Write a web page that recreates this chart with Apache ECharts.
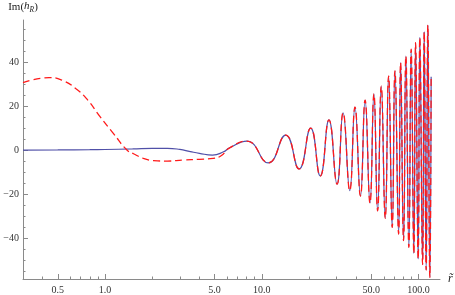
<!DOCTYPE html>
<html><head><meta charset="utf-8">
<script src="https://cdn.jsdelivr.net/npm/echarts@6/dist/echarts.min.js"></script>
<style>html,body{margin:0;padding:0;background:#fff}#c{width:455px;height:295px}</style>
</head><body><div id="c"></div>
<script>
// Blue (solid) before the two curves merge
const blueEarlyX = [0.3, 0.5, 0.8, 1.0, 1.5, 2.0, 2.5, 3.0, 3.5, 4.0, 4.85, 5.7];
const blueEarlyY = [0, 0.05, 0.15, 0.25, 0.5, 0.8, 0.8, 0.3, -0.7, -1.5, -2.3, -0.8];
// Red (dashed) before the two curves merge
const redEarlyX = [0.3, 0.35, 0.4, 0.44, 0.53, 0.65, 0.77, 0.93, 1.13, 1.38, 1.52, 1.76, 2.04, 2.5, 3.15, 4.0, 4.9, 5.5];
const redEarlyY = [30.6, 32.0, 32.7, 32.9, 31.8, 28.0, 23.0, 15.2, 7.6, 0, -1.7, -3.8, -4.8, -5.0, -4.5, -4.2, -3.8, -2.6];
// Shared oscillation (both curves coincide), extrema
const oscX = [6.2, 8.03, 11.0, 14.2, 17.3, 20.5, 23.6, 26.8, 30.2, 33.0, 36.4, 39.3, 42.6, 45.6, 49.0, 51.9, 54.8, 57.8, 61.3, 64.4, 67.9, 70.7, 74.6, 76.8, 80.2, 83.0, 86.7, 89.7, 93.3, 95.7, 99.4, 101.9, 106.1, 108.6, 111.8, 114.6, 118.0, 120.3];
const oscY = [0.9, 4.1, -5.8, 6.8, -8.6, 10.0, -11.8, 13.7, -15.5, 16.9, -18.4, 19.5, -20.9, 22.7, -24.1, 25.5, -27.6, 29.0, -31.0, 33.6, -35.1, 36.0, -38.2, 39.7, -41.2, 42.7, -44.2, 45.8, -47.0, 48.8, -49.5, 51.2, -52.0, 53.8, -54.5, 56.8, -57.9, 33.3];
// Ticks
const xMajor = [0.5, 1, 5, 10, 50, 100];
const xMajorLabels = ['0.5', '1.0', '5.0', '10.0', '50.0', '100.0'];
const xMinor = [0.4, 0.6, 0.7, 0.8, 0.9, 2, 3, 4, 6, 7, 8, 9, 20, 30, 40, 60, 70, 80, 90];
const yMajor = [-40, -20, 0, 20, 40];
const yMinor = [-55, -50, -45, -35, -30, -25, -15, -10, -5, 5, 10, 15, 25, 30, 35, 45, 50, 55];

const pairs = (xs, ys) => xs.map((x, i) => [x, ys[i]]);
const blueData = pairs(blueEarlyX, blueEarlyY).concat(pairs(oscX, oscY));
const redData = pairs(redEarlyX, redEarlyY).concat(pairs(oscX, oscY));

const FONT = "'Liberation Serif', 'Times New Roman', serif";
const AX = '#8a8a8a';
const XMIN = 0.3, XMAX = 137, YMIN = -58.6, YMAX = 59.1;

const chart = echarts.init(document.getElementById('c'), null, {renderer: 'canvas'});
chart.setOption({
  animation: false,
  backgroundColor: '#fff',
  grid: {left: 23, right: 15, top: 20, bottom: 16, outerBoundsMode: 'none', containLabel: false},
  xAxis: [
    {
      type: 'log', logBase: 10, min: XMIN, max: XMAX, position: 'bottom',
      name: 'r\u0303', nameLocation: 'end', nameGap: 8,
      nameTextStyle: {fontFamily: FONT, fontStyle: 'italic', fontSize: 12, color: '#222', verticalAlign: 'middle'},
      axisLine: {show: true, onZero: false, lineStyle: {color: AX, width: 1}},
      axisTick: {show: true, inside: true, length: 5, customValues: xMajor, lineStyle: {color: AX}},
      axisLabel: {show: true, customValues: xMajor, margin: 6, fontFamily: FONT, fontSize: 10, color: '#333',
        formatter: v => { const i = xMajor.findIndex(m => Math.abs(m - v) < 1e-6 * m); return i >= 0 ? xMajorLabels[i] : ''; }},
      splitLine: {show: false}, minorTick: {show: false}
    },
    {
      type: 'log', logBase: 10, min: XMIN, max: XMAX, position: 'bottom',
      axisLine: {show: false, onZero: false},
      axisTick: {show: true, inside: true, length: 2.5, customValues: xMinor, lineStyle: {color: AX}},
      axisLabel: {show: false, customValues: xMinor},
      splitLine: {show: false}
    }
  ],
  yAxis: [
    {
      type: 'value', min: YMIN, max: YMAX, position: 'left',
      name: 'Im({i|h}{sub|R})', nameLocation: 'end', nameGap: 6,
      nameTextStyle: {fontFamily: FONT, fontSize: 11, color: '#222', align: 'center', lineHeight: 13, verticalAlign: 'bottom',
        rich: {
          i: {fontFamily: FONT, fontStyle: 'italic', fontSize: 11, color: '#222', lineHeight: 13, verticalAlign: 'top'},
          sub: {fontFamily: FONT, fontStyle: 'italic', fontSize: 7.5, color: '#222', lineHeight: 8, verticalAlign: 'bottom'}
        }},
      axisLine: {show: true, onZero: false, lineStyle: {color: AX, width: 1}},
      axisTick: {show: true, inside: true, length: 5, customValues: yMajor, lineStyle: {color: AX}},
      axisLabel: {show: true, customValues: yMajor, margin: 4, fontFamily: FONT, fontSize: 10, color: '#333',
        formatter: v => v < 0 ? '\u2212' + Math.abs(v) : String(v)},
      splitLine: {show: false}
    },
    {
      type: 'value', min: YMIN, max: YMAX, position: 'left',
      axisLine: {show: false, onZero: false},
      axisTick: {show: true, inside: true, length: 2.5, customValues: yMinor, lineStyle: {color: AX}},
      axisLabel: {show: false, customValues: yMinor},
      splitLine: {show: false}
    }
  ],
  series: [
    {type: 'line', xAxisIndex: 0, yAxisIndex: 0, data: blueData, smooth: 0.5, showSymbol: false, symbol: 'none',
      lineStyle: {color: '#5050a8', width: 1.2}, z: 2},
    {type: 'line', xAxisIndex: 0, yAxisIndex: 0, data: redData, smooth: 0.5, showSymbol: false, symbol: 'none',
      lineStyle: {color: '#ff1a1a', width: 1.3, type: [7, 4]}, z: 3}
  ]
});
</script></body></html>
